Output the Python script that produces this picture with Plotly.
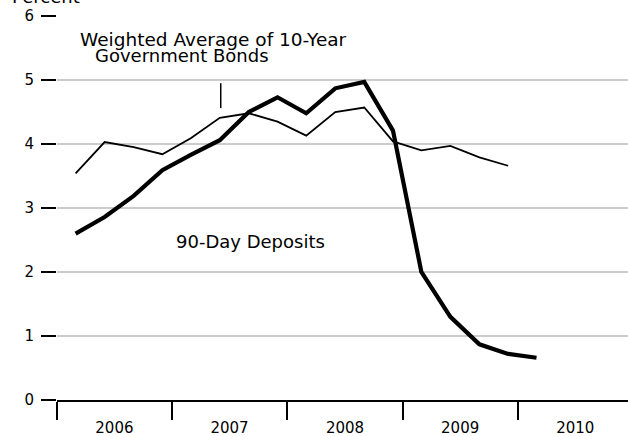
import plotly.graph_objects as go

# Quarterly observation dates
dates = ["2006-03-01", "2006-06-01", "2006-09-01", "2006-12-01",
         "2007-03-01", "2007-06-01", "2007-09-01", "2007-12-01",
         "2008-03-01", "2008-06-01", "2008-09-01", "2008-12-01",
         "2009-03-01", "2009-06-01", "2009-09-01", "2009-12-01",
         "2010-03-01"]

deposits_90day = [2.60, 2.86, 3.19, 3.59, 3.83, 4.06, 4.50, 4.73, 4.48,
                  4.87, 4.97, 4.21, 2.00, 1.30, 0.87, 0.72, 0.66]

bonds_10yr = [3.54, 4.03, 3.95, 3.84, 4.09, 4.41, 4.48, 4.35, 4.13,
              4.50, 4.57, 4.04, 3.90, 3.97, 3.79, 3.66]

year_labels = ["2006", "2007", "2008", "2009", "2010"]
year_label_pos = ["2006-07-02", "2007-07-02", "2008-07-02", "2009-07-02", "2010-07-02"]
y_ticks = [0, 1, 2, 3, 4, 5, 6]

FONT = "DejaVu Sans"

fig = go.Figure()
fig.add_trace(go.Scatter(x=dates[:len(bonds_10yr)], y=bonds_10yr, mode="lines",
                         line=dict(color="black", width=1.8),
                         name="Weighted Average of 10-Year Government Bonds"))
fig.add_trace(go.Scatter(x=dates, y=deposits_90day, mode="lines",
                         line=dict(color="black", width=4.2),
                         name="90-Day Deposits"))

# leader line from label to bond series
fig.add_shape(type="line", xref="x", yref="y",
              x0="2007-06-04", x1="2007-06-04", y0=4.56, y1=4.95,
              line=dict(color="black", width=1.5))

def px_to_paper_x(px):
    return (px - 57) / 571.0

def px_to_paper_y(py):
    return (400 - py) / 384.0

ann = [
    dict(text="Weighted Average of 10-Year", x=px_to_paper_x(78), y=px_to_paper_y(39.8),
         xanchor="left", size=18.5),
    dict(text="Government Bonds", x=px_to_paper_x(93), y=px_to_paper_y(55.8),
         xanchor="left", size=18),
    dict(text="90-Day Deposits", x=px_to_paper_x(174), y=px_to_paper_y(241.9),
         xanchor="left", size=18),
    dict(text="Percent", x=px_to_paper_x(10), y=px_to_paper_y(-3.4),
         xanchor="left", size=18),
]
for a in ann:
    size = a.pop("size")
    fig.add_annotation(xref="paper", yref="paper", showarrow=False, yanchor="middle",
                       font=dict(family=FONT, size=size, color="black"), **a)

fig.update_layout(
    width=628, height=436,
    margin=dict(l=57, r=0, t=16, b=36, autoexpand=False),
    paper_bgcolor="white", plot_bgcolor="white",
    showlegend=False,
    font=dict(family=FONT, size=15, color="black"),
)
fig.update_xaxes(
    type="date", automargin=False,
    range=["2006-01-01", "2010-12-16"],
    tickvals=year_label_pos, ticktext=year_labels,
    ticks="", showgrid=False, zeroline=False,
    showline=True, linecolor="black", linewidth=2,
    tickfont=dict(family=FONT, size=15, color="black"),
    ticklabelstandoff=13,
    minor=dict(ticks="outside", tick0="2006-01-01", dtick="M12",
               ticklen=18, tickwidth=2, tickcolor="black", showgrid=False),
)
fig.update_yaxes(
    automargin=False,
    range=[0, 6], tickvals=y_ticks,
    ticks="outside", ticklen=15, tickwidth=2, tickcolor="black",
    showgrid=True, gridcolor="#cccccc", gridwidth=1.7,
    zeroline=False, showline=False,
    tickfont=dict(family=FONT, size=15, color="black"),
    ticklabelstandoff=4,
)

fig.write_html("out.html",
               config={"displayModeBar": False},
               post_script="document.body.style.margin='0';document.body.style.overflow='hidden';")
